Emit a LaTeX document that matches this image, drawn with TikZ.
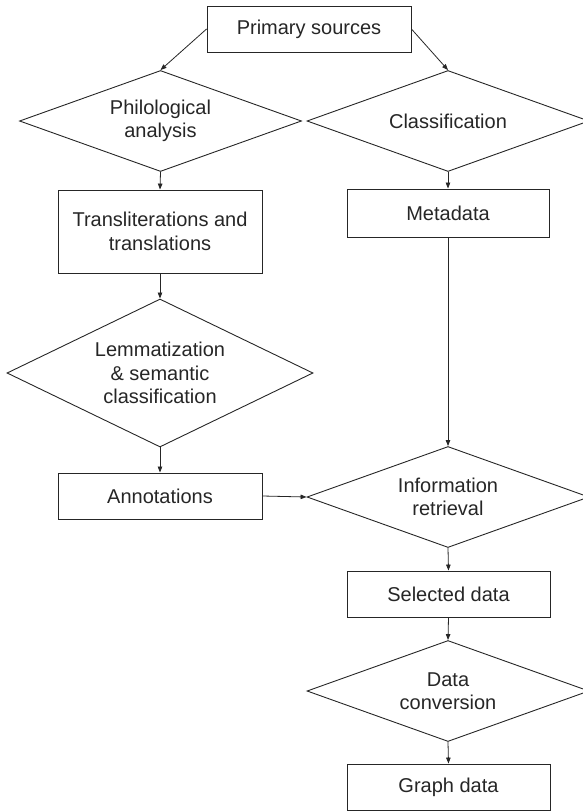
\documentclass[tikz,border=0pt]{standalone}
\usepackage{fontspec}
\setmainfont{Liberation Sans}
\usetikzlibrary{shapes.geometric,arrows.meta}
\definecolor{ink}{HTML}{262626}
\begin{document}
\begin{tikzpicture}[x=1pt,y=-1pt,
  every node/.style={font=\fontsize{20}{23.5}\selectfont, text=ink},
  box/.style={draw=ink, line width=0.9pt, rectangle, minimum width=204pt, minimum height=46pt, inner sep=0pt, align=center},
  decision/.style={draw=ink, line width=0.9pt, diamond, shape aspect=2.76, minimum width=282pt, minimum height=101pt, inner sep=0pt, align=center},
  flow/.style={draw=ink, line width=0.8pt, -{Triangle[length=6pt,width=4.5pt]}}
]
\useasboundingbox (0,0) rectangle (583,811);
\node[box] (ps) at (309,29) {Primary sources};
\node[decision] (phil) at (160.5,121) {Philological\\analysis};
\node[decision] (class) at (448,121) {Classification};
\node[box, minimum height=83pt] (trans) at (160,231.5) {Transliterations and\\translations};
\node[box, minimum width=202pt, minimum height=48pt] (meta) at (448,213) {Metadata};
\node[decision, shape aspect=2.07, minimum width=306pt, minimum height=148pt] (lemma) at (160,373) {Lemmatization\\\& semantic\\classification};
\node[box] (annot) at (160,496) {Annotations};
\node[decision] (info) at (448,497) {Information\\retrieval};
\node[box, minimum width=203pt] (sel) at (448.5,594) {Selected data};
\node[decision] (conv) at (448,691) {Data\\conversion};
\node[box, minimum width=203pt] (graph) at (448.5,787) {Graph data};

\draw[flow] (ps.west) -- (phil.north);
\draw[flow] (ps.east) -- (class.north);
\draw[flow] (phil.south) -- (trans.north);
\draw[flow] (class.south) -- (meta.north);
\draw[flow] (trans.south) -- (lemma.north);
\draw[flow] (lemma.south) -- (annot.north);
\draw[flow] (meta.south) -- (info.north);
\draw[flow] (annot.east) -- (info.west);
\draw[flow] (info.south) -- (sel.north);
\draw[flow] (sel.south) -- (conv.north);
\draw[flow] (conv.south) -- (graph.north);
\end{tikzpicture}
\end{document}
